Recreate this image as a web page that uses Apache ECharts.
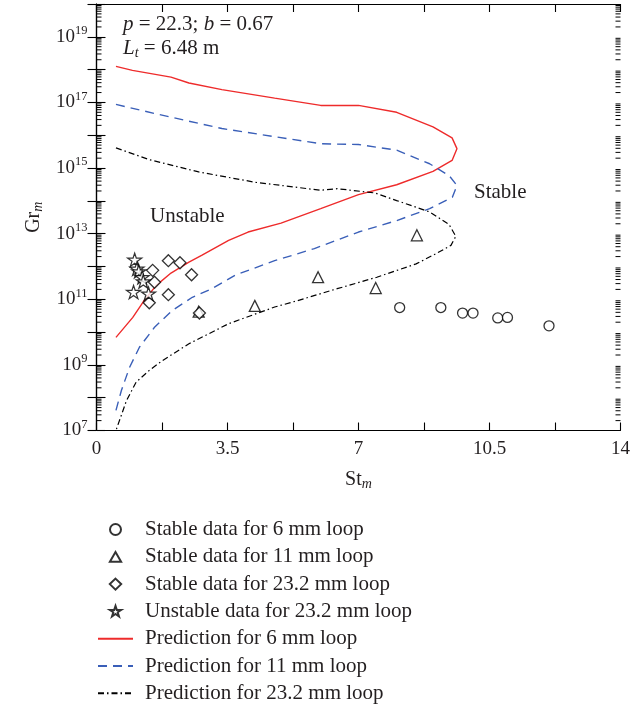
<!DOCTYPE html>
<html><head><meta charset="utf-8">
<script src="https://cdn.jsdelivr.net/npm/echarts@6/dist/echarts.min.js"></script>
<style>html,body{margin:0;padding:0;background:#fff}#c{width:633px;height:706px}</style>
</head><body><div id="c"></div>
<script>
// ---- data (St_m, Gr_m) ----
const pred6 = [[0.52,1.26e18],[0.96,9.5e17],[1.99,5.9e17],[2.47,3.9e17],[3.35,2.45e17],[4.76,1.35e17],[5.99,8.1e16],[7.0,8.1e16],[8.02,5.0e16],[8.99,1.8e16],[9.50,8.3e15],[9.63,3.9e15],[9.50,1.7e15],[8.99,7.9e14],[8.02,3.1e14],[7.0,1.55e14],[5.99,5.8e13],[4.93,2.1e13],[4.05,1.12e13],[3.53,6.2e12],[2.82,2.2e12],[2.47,1.35e12],[1.99,6.3e11],[1.59,2.6e11],[1.24,8.1e10],[0.97,2.8e10],[0.52,6.9e9]];
const pred11 = [[0.52,8.7e16],[1.59,4.5e16],[3.35,1.6e16],[5.99,5.5e15],[7.0,5.2e15],[8.02,3.5e15],[8.9,1.35e15],[9.42,5.9e14],[9.63,2.95e14],[9.51,1.3e14],[8.9,5.8e13],[8.02,2.5e13],[7.0,1.12e13],[5.82,3.5e12],[4.76,1.5e12],[3.70,5.4e11],[3.08,2.1e11],[2.56,1.15e11],[2.03,4.6e10],[1.55,1.4e10],[1.15,3.5e9],[0.885,8.5e8],[0.665,1.66e8],[0.52,4.1e7]];
const pred23 = [[0.52,4.1e15],[1.41,1.8e15],[2.73,7.6e14],[4.23,3.7e14],[5.99,2.1e14],[6.43,2.35e14],[7.44,1.74e14],[8.02,1.02e14],[8.9,4.6e13],[9.42,1.9e13],[9.60,8.3e12],[9.47,4.4e12],[9.07,2.45e12],[8.54,1.2e12],[7.49,4.7e11],[6.43,2.1e11],[5.375,9.1e10],[4.76,5.8e10],[3.53,1.8e10],[2.47,4.4e9],[1.76,1.35e9],[1.41,6.8e8],[1.06,3.0e8],[0.80,8.1e7],[0.52,1.0e7]];
const stable6 = [[8.10,5.6e10],[9.20,5.6e10],[9.78,3.8e10],[10.06,3.8e10],[10.72,2.7e10],[10.98,2.8e10],[12.09,1.55e10]];
const stable11 = [[5.92,4.7e11],[7.46,2.2e11],[8.56,8.9e12],[4.23,6.3e10],[2.73,4.2e10]];
const stable23 = [[1.92,1.5e12],[2.23,1.3e12],[2.54,5.6e11],[1.50,7.6e11],[1.55,3.3e11],[1.92,1.38e11],[1.41,7.8e10],[2.75,3.8e10]];
const unstable23 = [[1.02,1.6e12],[1.08,8.5e11],[1.13,7.1e11],[1.22,4.7e11],[1.25,3.5e11],[0.99,1.66e11],[1.39,1.48e11]];
const xTickLabels = ['0','3.5','7','10.5','14'];
const names = ['Stable data for 6 mm loop','Stable data for 11 mm loop','Stable data for 23.2 mm loop','Unstable data for 23.2 mm loop','Prediction for 6 mm loop','Prediction for 11 mm loop','Prediction for 23.2 mm loop'];

// ---- chart ----
const FONT = 'Liberation Serif';
const TXT = '#231f20';
const STAR = 'path://M50 2 L61.2 36.2 L97.6 36.2 L68.2 57.6 L79.4 92 L50 70.8 L20.6 92 L31.8 57.6 L2.4 36.2 L38.8 36.2 Z';
// legend icons drawn in a 350x110 box (same ratio as the 35x11 legend item) so they keep their shape
const LEG_TRI = 'path://M0 0 M350 110 M175 8 L231 104 L119 104 Z';
const LEG_DIA = 'path://M0 0 M350 110 M175 0 L232 55 L175 110 L118 55 Z';
const LEG_STAR = 'path://M0 0 M350 110 M175 0 L188 40 L232 40 L197 64 L210 106 L175 81 L140 106 L153 64 L118 40 L162 40 Z';
const minorVals = [];
for (let k = 7; k < 20; k++) for (let m = 2; m <= 9; m++) minorVals.push([0, m * Math.pow(10, k)]);

const mk = {color:'#fff', borderColor:'#000', borderWidth:1.3};
const mkStar = {color:'#fff', borderColor:'#000', borderWidth:1.25};
const chart = echarts.init(document.getElementById('c'), null, {renderer:'canvas'});
chart.setOption({
  animation:false,
  backgroundColor:'#fff',
  textStyle:{fontFamily:FONT, color:TXT},
  grid:{left:96.5, right:6.5, top:4, bottom:275.5, containLabel:false},
  xAxis:[{
    type:'value', min:0, max:14, interval:1.75, position:'bottom',
    name:'St{m|m}', nameLocation:'middle', nameGap:38,
    nameTextStyle:{fontFamily:FONT, fontSize:20, color:TXT, rich:{m:{fontFamily:FONT, fontSize:14, fontStyle:'italic', color:TXT, padding:[9,0,0,0]}}},
    axisLine:{lineStyle:{color:'#000', width:1.2}},
    axisTick:{inside:true, length:8, lineStyle:{color:'#000', width:1.1}},
    axisLabel:{margin:9, fontFamily:FONT, fontSize:19, color:TXT,
      formatter:(v)=>{const i=Math.round(v/3.5); return (Math.abs(v-i*3.5)<1e-6)? xTickLabels[i] : '';}},
    splitLine:{show:false}
  },{
    type:'value', min:0, max:14, interval:1.75, position:'top',
    axisLine:{lineStyle:{color:'#000', width:1.2}},
    axisTick:{inside:true, length:8, lineStyle:{color:'#000', width:1.1}},
    axisLabel:{show:false}, splitLine:{show:false}
  }],
  yAxis:[{
    type:'log', logBase:10, min:1e7, max:1e20, interval:1, position:'left',
    name:'Gr{m|m}', nameLocation:'middle', nameGap:50, nameRotate:90,
    nameTextStyle:{fontFamily:FONT, fontSize:20, color:TXT, rich:{m:{fontFamily:FONT, fontSize:14, fontStyle:'italic', color:TXT, padding:[9,0,0,0]}}},
    axisLine:{lineStyle:{color:'#000', width:1.2}},
    axisTick:{inside:true, length:9, lineStyle:{color:'#000', width:1.1}},
    axisLabel:{margin:9, fontFamily:FONT, fontSize:19, color:TXT,
      formatter:(v)=>{const e=Math.round(Math.log10(v)); return (e%2===1)? '{b|10}{s|'+e+'}' : '';},
      rich:{b:{fontFamily:FONT, fontSize:19, color:TXT, lineHeight:22}, s:{fontFamily:FONT, fontSize:12.5, color:TXT, lineHeight:12, padding:[0,0,12,0]}}},
    splitLine:{show:false}
  },{
    type:'log', logBase:10, min:1e7, max:1e20, interval:1, position:'right',
    axisLine:{lineStyle:{color:'#000', width:1.2}},
    axisTick:{inside:true, length:9, lineStyle:{color:'#000', width:1.1}},
    axisLabel:{show:false}, splitLine:{show:false}
  }],
  legend:{
    orient:'vertical', left:97, top:519, height:190, padding:0, itemWidth:35, itemHeight:11, itemGap:6.3,
    symbolKeepAspect:false,
    textStyle:{fontFamily:FONT, fontSize:21, color:TXT, lineHeight:20, padding:[0,0,0,7]},
    data:[
      {name:names[0], icon:'circle'},
      {name:names[1], icon:LEG_TRI},
      {name:names[2], icon:LEG_DIA},
      {name:names[3], icon:LEG_STAR},
      {name:names[4], itemStyle:{opacity:0}},
      {name:names[5], itemStyle:{opacity:0}},
      {name:names[6], itemStyle:{opacity:0}}
    ]
  },
  graphic:[
    {type:'text', left:123, top:14, style:{text:'{i|p} = 22.3; {i|b} = 0.67', fontFamily:FONT, fontSize:21, fill:TXT,
      rich:{i:{fontFamily:FONT, fontSize:21, fontStyle:'italic', fill:TXT}}}},
    {type:'text', left:123, top:38, style:{text:'{i|L}{s|t} = 6.48 m', fontFamily:FONT, fontSize:21, fill:TXT,
      rich:{i:{fontFamily:FONT, fontSize:21, fontStyle:'italic', fill:TXT}, s:{fontFamily:FONT, fontSize:14, fontStyle:'italic', fill:TXT, padding:[9,0,0,0]}}}},
    {type:'text', left:150, top:206, style:{text:'Unstable', fontFamily:FONT, fontSize:21, fill:TXT}},
    {type:'text', left:474, top:182, style:{text:'Stable', fontFamily:FONT, fontSize:21, fill:TXT}}
  ],
  series:[
    {type:'custom', silent:true, z:5, clip:false, data:minorVals, encode:{x:0,y:1},
     renderItem:(params, api)=>{
       const cs = params.coordSys; const y = api.coord([0, api.value(1)])[1];
       return {type:'group', children:[
         {type:'line', shape:{x1:cs.x, y1:y, x2:cs.x+5, y2:y}, style:{stroke:'#000', lineWidth:1}},
         {type:'line', shape:{x1:cs.x+cs.width-5, y1:y, x2:cs.x+cs.width, y2:y}, style:{stroke:'#000', lineWidth:1}}
       ]};
     }},
    {name:names[4], type:'line', data:pred6, showSymbol:false, symbol:'none', z:3,
     lineStyle:{color:'#ee2b2b', width:1.4}, itemStyle:{color:'#ee2b2b'}},
    {name:names[5], type:'line', data:pred11, showSymbol:false, symbol:'none', z:3,
     lineStyle:{color:'#3a5fb8', width:1.4, type:[9,6]}, itemStyle:{color:'#3a5fb8'}},
    {name:names[6], type:'line', data:pred23, showSymbol:false, symbol:'none', z:3,
     lineStyle:{color:'#000', width:1.2, type:[6,3,1.5,3]}, itemStyle:{color:'#000'}},
    {name:names[0], type:'scatter', data:stable6, symbol:'circle', symbolSize:10, z:4, itemStyle:mk},
    {name:names[1], type:'scatter', data:stable11, symbol:'triangle', symbolSize:11, z:4, itemStyle:mk},
    {name:names[2], type:'scatter', data:stable23, symbol:'diamond', symbolSize:12, z:4, itemStyle:mk},
    {name:names[3], type:'scatter', data:unstable23, symbol:STAR, symbolSize:14, symbolKeepAspect:true, z:4, itemStyle:mkStar}
  ]
});
</script></body></html>
